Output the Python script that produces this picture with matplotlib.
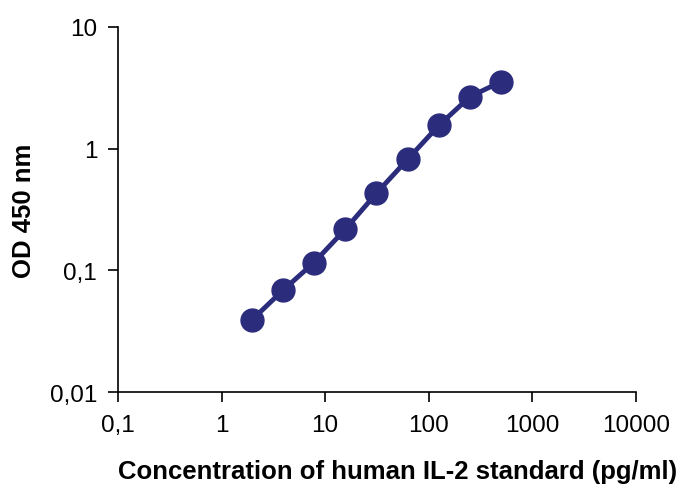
import matplotlib
matplotlib.use('Agg')
import matplotlib.pyplot as plt
from matplotlib.ticker import FixedLocator, FixedFormatter, NullLocator

plt.rcParams['font.family'] = ['Liberation Sans', 'DejaVu Sans']

conc = [1.95, 3.9, 7.8, 15.6, 31.25, 62.5, 125, 250, 500]
od = [0.039, 0.0685, 0.116, 0.217, 0.43, 0.817, 1.55, 2.67, 3.55]

xticks = [0.1, 1, 10, 100, 1000, 10000]
xlabels = ['0,1', '1', '10', '100', '1000', '10000']
yticks = [0.01, 0.1, 1, 10]
ylabels = ['0,01', '0,1', '1', '10']

color = '#2b2c7c'

fig = plt.figure(figsize=(6.78, 4.89), dpi=100)
ax = fig.add_axes([0.174, 0.196, 0.764, 0.747])
ax.plot(conc, od, color=color, lw=3.5, marker='o', ms=16.5, mfc=color, mec=color)
ax.set_xscale('log')
ax.set_yscale('log')
ax.set_xlim(0.1, 10000)
ax.set_ylim(0.01, 10)
ax.xaxis.set_major_locator(FixedLocator(xticks))
ax.xaxis.set_major_formatter(FixedFormatter(xlabels))
ax.yaxis.set_major_locator(FixedLocator(yticks))
ax.yaxis.set_major_formatter(FixedFormatter(ylabels))
ax.xaxis.set_minor_locator(NullLocator())
ax.yaxis.set_minor_locator(NullLocator())
for s in ['top', 'right']:
    ax.spines[s].set_visible(False)
for s in ['left', 'bottom']:
    ax.spines[s].set_linewidth(1.2)
ax.tick_params(direction='out', length=7, width=1.2, labelsize=17.5)
ax.tick_params(axis='x', pad=9)
ax.tick_params(axis='y', pad=8)
ax.set_xlabel('Concentration of human IL-2 standard (pg/ml)', fontsize=18.5,
              fontweight='bold')
ax.xaxis.set_label_coords(0.539, -0.183)
ax.set_ylabel('OD 450 nm', fontsize=18.5, fontweight='bold', labelpad=10)

fig.savefig('out.png', dpi=100)
